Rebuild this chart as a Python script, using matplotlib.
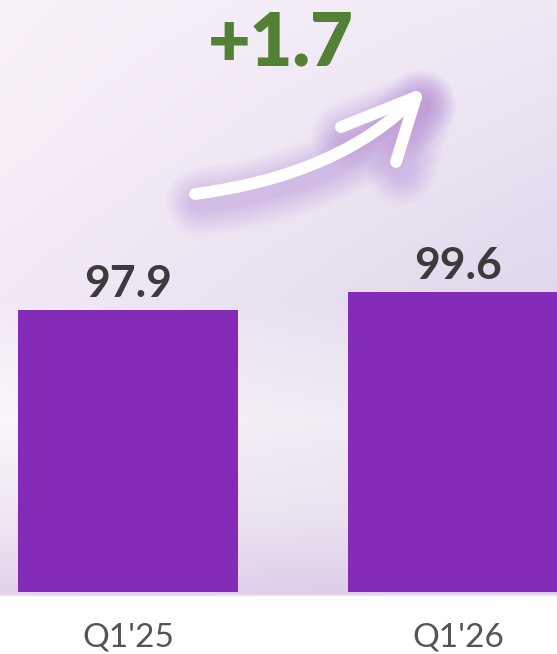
import numpy as np
import matplotlib
matplotlib.use("Agg")
import matplotlib.pyplot as plt
from matplotlib.path import Path
from matplotlib.patches import PathPatch
from matplotlib import transforms

# ---- data ----
categories = ["Q1'25", "Q1'26"]
values = [97.9, 99.6]
value_labels = ["97.9", "99.6"]
delta_label = "+1.7"

W, H = 557, 654
DPI = 100
fig = plt.figure(figsize=(W / DPI, H / DPI), dpi=DPI, facecolor="white")

def fx(px):
    return px / W

def fy(py):
    return 1 - py / H

# ---- background gradient (plot region) ----
bg_bottom = 595
bg = fig.add_axes([0, fy(bg_bottom), 1, bg_bottom / H], zorder=0)
ys = np.arange(bg_bottom)
xs = np.linspace(0, 1, W)
key_y = [0, 150, 300, 420, 520, 595]
left_cols = np.array([(249, 241, 249), (247, 238, 248), (243, 233, 246), (251, 246, 251), (240, 230, 243), (226, 208, 234)], float)
right_cols = np.array([(240, 232, 245), (232, 224, 241), (223, 215, 235), (236, 230, 242), (230, 222, 238), (220, 204, 232)], float)
Lc = np.stack([np.interp(ys, key_y, left_cols[:, i]) for i in range(3)], axis=1)
Rc = np.stack([np.interp(ys, key_y, right_cols[:, i]) for i in range(3)], axis=1)
img = Lc[:, None, :] * (1 - xs[None, :, None]) + Rc[:, None, :] * xs[None, :, None]
bg.imshow(img / 255.0, aspect="auto", extent=[0, 1, 0, 1], origin="upper", interpolation="bilinear")
bg.set_axis_off()
fig.add_artist(plt.Line2D([0, 1], [fy(595), fy(595)], color="#eadcf1", lw=1.5, zorder=1))

# ---- bars ----
bar_bottom_px = 592
ax = fig.add_axes([0, fy(bar_bottom_px), 1, bar_bottom_px / H], zorder=2)
ax.patch.set_alpha(0)
px_per_unit = 10.6
base = values[0] - (bar_bottom_px - 310) / px_per_unit
top = base + bar_bottom_px / px_per_unit
x = np.arange(len(categories))
ax.bar(x, np.array(values) - base, bottom=base, width=220 / 330, color="#842cb8", zorder=3)
ax.set_ylim(base, top)
ax.set_xlim(-128 / 330, (W - 128) / 330)
for s in ax.spines.values():
    s.set_visible(False)
ax.set_yticks([])
ax.set_xticks(x, categories)
ax.tick_params(axis="x", length=0, pad=39, labelsize=24, labelcolor="#555555")
for lbl in ax.get_xticklabels():
    lbl.set_fontfamily("Lato")
    lbl.set_verticalalignment("baseline")

for xi, v, t in zip(x, values, value_labels):
    ax.annotate(t, (xi, v), xytext=(0, 13), textcoords="offset pixels",
                ha="center", va="baseline", fontsize=32, fontweight="bold",
                family="Lato", color="#3b3b3b", zorder=4)

# ---- delta label ----
fig.text(fx(281), fy(65), delta_label, ha="center", va="baseline", fontsize=53,
         fontweight="heavy", family="Lato", color="#528135", zorder=5)

# ---- arrow with glow ----
def to_fig(pts):
    return [(fx(a), fy(b)) for a, b in pts]

shaft = Path(to_fig([(195, 194), (340, 175), (416, 97)]), [Path.MOVETO, Path.CURVE3, Path.CURVE3])
head = Path(to_fig([(341, 127), (416, 97), (396, 162)]), [Path.MOVETO, Path.LINETO, Path.LINETO])

shadow = transforms.Affine2D().translate(fx(5), -8 / H) + fig.transFigure
for lw in np.linspace(50, 14, 14):
    for p in (shaft, head):
        fig.add_artist(PathPatch(p, transform=shadow, facecolor="none", edgecolor="#a56ad0",
                                 lw=lw, alpha=0.022, capstyle="round", joinstyle="round", zorder=5))
for p in (shaft, head):
    fig.add_artist(PathPatch(p, transform=fig.transFigure, facecolor="none", edgecolor="white",
                             lw=8.5, capstyle="round", joinstyle="round", zorder=6))

fig.savefig("out.png", dpi=DPI, facecolor="white")
